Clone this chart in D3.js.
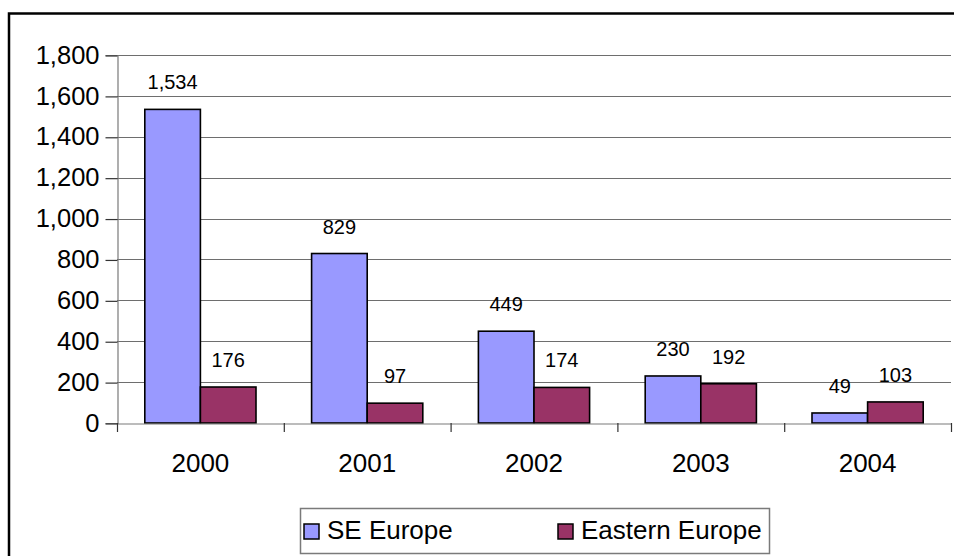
<!DOCTYPE html>
<html>
<head>
<meta charset="utf-8">
<script src="https://cdn.jsdelivr.net/npm/d3@7"></script>
<style>
  html, body { margin: 0; padding: 0; background: #fff; }
  svg { display: block; font-family: "Liberation Sans", Arial, sans-serif; }
</style>
</head>
<body>
<svg id="chart" width="954" height="556"></svg>
<script>
// Years on the category axis
const years = ["2000", "2001", "2002", "2003", "2004"];
// Series values
const seEurope = [1534, 829, 449, 230, 49];
const easternEurope = [176, 97, 174, 192, 103];
// Value axis ticks
const yTicks = [0, 200, 400, 600, 800, 1000, 1200, 1400, 1600, 1800];

const series = [
  { name: "SE Europe", values: seEurope, color: "#9999FF" },
  { name: "Eastern Europe", values: easternEurope, color: "#993366" }
];

const svg = d3.select("#chart");
const plot = { left: 117, right: 951, top: 55, bottom: 423 };

// Outer chart frame
svg.append("rect")
  .attr("x", 9).attr("y", 13.5)
  .attr("width", 980).attr("height", 600)
  .attr("fill", "none").attr("stroke", "#000").attr("stroke-width", 2.5);

const x = d3.scaleBand().domain(years).range([plot.left, plot.right]).paddingInner(0).paddingOuter(0);
const y = d3.scaleLinear().domain([0, 1800]).range([plot.bottom, plot.top]);
const barW = x.bandwidth() / 3;
const xs = d3.scaleBand().domain(series.map(s => s.name))
  .range([0, 2 * barW]);

// Gridlines
svg.append("g")
  .selectAll("line")
  .data(yTicks.filter(t => t > 0))
  .join("line")
  .attr("x1", plot.left).attr("x2", plot.right)
  .attr("y1", d => Math.round(y(d)) + 0.5).attr("y2", d => Math.round(y(d)) + 0.5)
  .attr("stroke", "#6e6e6e").attr("stroke-width", 1.2);

// Value axis
const yAxis = d3.axisLeft(y).tickValues(yTicks).tickSize(12).tickPadding(6)
  .tickFormat(d3.format(","));
const gy = svg.append("g").attr("transform", `translate(${plot.left + 0.5},0)`).call(yAxis);
gy.select(".domain").attr("stroke", "#7a7a7a").attr("stroke-width", 1.2);
gy.selectAll(".tick line").attr("stroke", "#333").attr("stroke-width", 1.2)
  .attr("transform", "translate(0,0.5)");
gy.selectAll(".tick text").attr("font-size", 25.5).attr("fill", "#000")
  .attr("font-family", "Liberation Sans, Arial, sans-serif");

// Bars
const groups = svg.append("g").selectAll("g")
  .data(series).join("g");
groups.selectAll("rect")
  .data(s => s.values.map((v, i) => ({ v, year: years[i], s })))
  .join("rect")
  .attr("x", d => x(d.year) + barW / 2 + xs(d.s.name))
  .attr("y", d => y(d.v))
  .attr("width", barW)
  .attr("height", d => y(0) - y(d.v))
  .attr("fill", d => d.s.color)
  .attr("stroke", "#000").attr("stroke-width", 1.6);

// Category axis
const xAxis = d3.axisBottom(x).tickSize(0).tickPadding(30);
const gx = svg.append("g").attr("transform", `translate(0,${plot.bottom + 0.5})`).call(xAxis);
gx.select(".domain").attr("stroke", "#7a7a7a").attr("stroke-width", 1.2);
gx.selectAll(".tick text").attr("font-size", 26).attr("fill", "#000")
  .attr("font-family", "Liberation Sans, Arial, sans-serif");
// Tick marks between categories
svg.append("g").selectAll("line")
  .data(d3.range(years.length + 1))
  .join("line")
  .attr("x1", i => plot.left + i * x.bandwidth() + 0.5)
  .attr("x2", i => plot.left + i * x.bandwidth() + 0.5)
  .attr("y1", plot.bottom).attr("y2", plot.bottom + 9)
  .attr("stroke", "#333").attr("stroke-width", 1.2);

// Data labels
groups.selectAll("text.val")
  .data(s => s.values.map((v, i) => ({ v, year: years[i], s })))
  .join("text")
  .attr("class", "val")
  .attr("x", d => x(d.year) + barW / 2 + xs(d.s.name) + barW / 2)
  .attr("y", d => y(d.v) - 20)
  .attr("text-anchor", "middle")
  .attr("font-size", 20).attr("fill", "#000")
  .text(d => d3.format(",")(d.v));

// Legend
const legend = svg.append("g");
legend.append("rect")
  .attr("x", 300.5).attr("y", 508.5).attr("width", 469).attr("height", 45)
  .attr("fill", "#fff").attr("stroke", "#7a7a7a").attr("stroke-width", 1.5);
const legendX = [304, 558];
series.forEach((s, i) => {
  legend.append("rect")
    .attr("x", legendX[i]).attr("y", 524).attr("width", 15).attr("height", 15)
    .attr("fill", s.color).attr("stroke", "#000").attr("stroke-width", 1.5);
  legend.append("text")
    .attr("x", legendX[i] + 23).attr("y", 538.5)
    .attr("font-size", 26).attr("fill", "#000")
    .text(s.name);
});
</script>
</body>
</html>
